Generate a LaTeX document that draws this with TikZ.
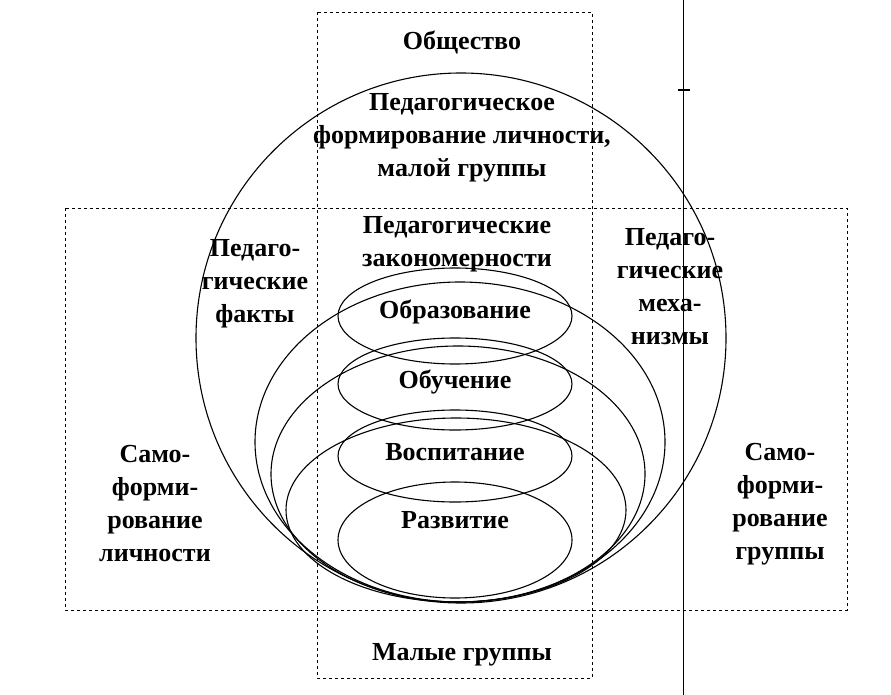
\documentclass[tikz,border=0pt]{standalone}
\usepackage{fontspec}
\setmainfont{Liberation Serif}
\begin{document}
\begin{tikzpicture}[x=1pt,y=-1pt,
  lbl/.style={font=\fontsize{26}{33}\selectfont\bfseries,align=center,inner sep=0pt},
  dbox/.style={draw,dashed,line width=0.9pt},
  ring/.style={draw,line width=1.1pt}]
\useasboundingbox (0,0) rectangle (891,695);
\draw[dbox] (317,12) rectangle (592,678);
\draw[dbox] (65,208) rectangle (847,610);
\draw[line width=0.7pt] (683,0) -- (683,695);
\draw[line width=1.2pt] (678,90) -- (690,90);
% big circle and nested
\draw[ring] (461,338) circle (265);
\draw[ring] (460,442) ellipse (205 and 160);
\draw[ring] (458,474) ellipse (187 and 128);
\draw[ring] (456,510) ellipse (170 and 92);
% small stacked ellipses
\draw[ring] (455,316) ellipse (117 and 48);
\draw[ring] (455,384) ellipse (117 and 46);
\draw[ring] (455,456) ellipse (117 and 46);
\draw[ring] (455,540) ellipse (117 and 58);
% labels
\node[lbl] (soc) at (462,42) {Общество};
\node[lbl] (pf) at (462,138) {Педагогическое\\формирование личности,\\малой группы};
\node[lbl] (pz) at (457,244) {Педагогические\\закономерности};
\node[lbl] (pfa) at (255,284) {Педаго-\\гические\\факты};
\node[lbl] (pm) at (670,287) {Педаго-\\гические\\меха-\\низмы};
\node[lbl] (obr) at (455,312) {Образование};
\node[lbl] (obu) at (455,382) {Обучение};
\node[lbl] (vos) at (455,452) {Воспитание};
\node[lbl] (raz) at (455,520) {Развитие};
\node[lbl] (sl) at (155,504) {Само-\\форми-\\рование\\личности};
\node[lbl] (sg) at (780,504) {Само-\\форми-\\рование\\группы};
\node[lbl] (mg) at (462,655) {Малые группы};
\end{tikzpicture}
\end{document}
